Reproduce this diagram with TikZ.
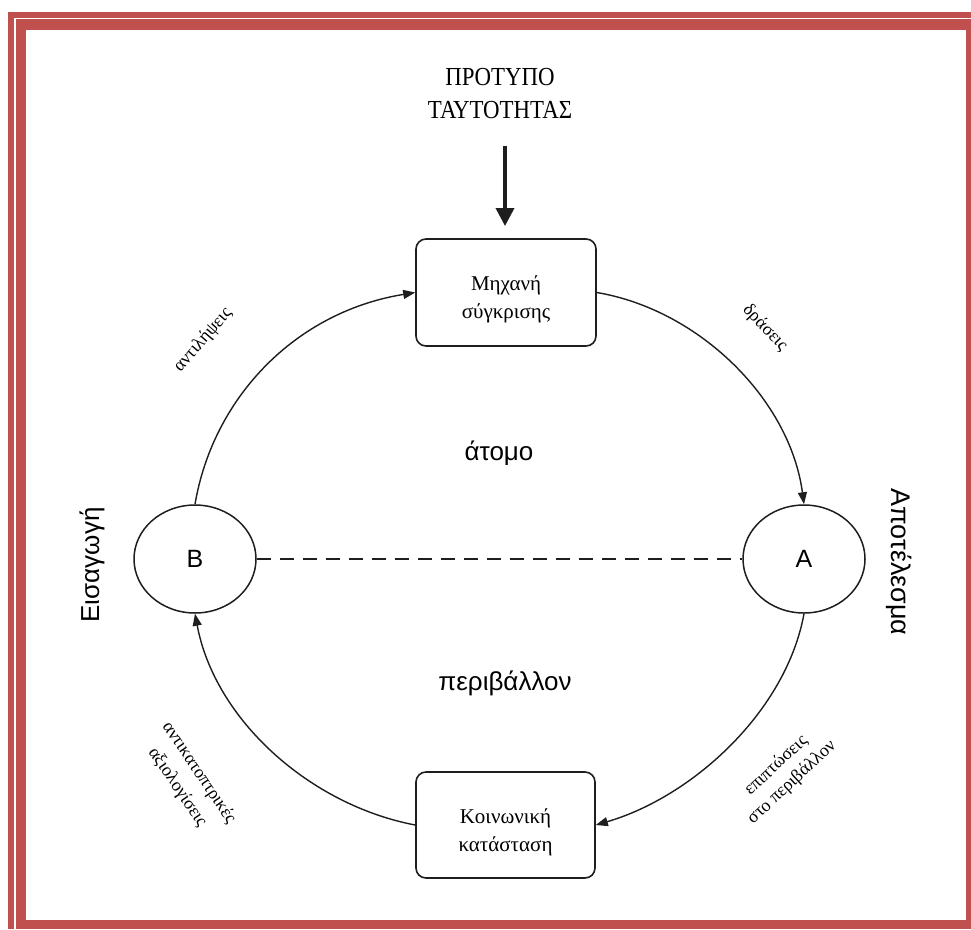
\documentclass[tikz,border=0pt]{standalone}
\usepackage{fontspec}
\setmainfont{Liberation Serif}
\newfontfamily\grsans{Liberation Sans}
\newfontfamily\ttlfont[FakeStretch=0.88]{Liberation Serif}
\usetikzlibrary{shapes.geometric, arrows.meta}
\definecolor{fr}{HTML}{C0504D}
\definecolor{ln}{HTML}{1E1E1E}
\newcommand{\lowr}{\rule{0pt}{29pt}}

\begin{document}
\begin{tikzpicture}[x=1pt, y=-1pt,
    box/.style={draw=ln, line width=1.6pt, rounded corners=10pt, minimum width=180pt, minimum height=107pt, align=center, font=\fontsize{21}{28}\selectfont},
    ring/.style={ellipse, draw=ln, line width=1.5pt, minimum width=122pt, minimum height=108pt, inner sep=0pt, font=\grsans\fontsize{25}{30}\selectfont},
    flow/.style={draw=ln, line width=1.4pt, -{Triangle[length=12pt, width=9pt]}},
    lbl/.style={font=\fontsize{18}{26}\selectfont, align=center},
    side/.style={font=\grsans\fontsize{26}{30}\selectfont}]
    \useasboundingbox (0,0) rectangle (971,929);

    % Page frame (thick-thin, cropped)
    \fill[fr] (8,12) rectangle (971,929);
    \fill[white] (14,18) rectangle (971,929);
    \fill[fr] (16,19) rectangle (971,929);
    \fill[white] (26,30) rectangle (966,920);

    % Identity standard
    \node[font=\ttlfont\fontsize{26}{33}\selectfont, align=center] (idn) at (500,94) {ΠΡΟΤΥΠΟ\\ΤΑΥΤΟΤΗΤΑΣ};
    \coordinate (src) at (505,146);
    \coordinate (tip) at (505,226);
    \draw[ln, line width=3.6pt, -{Triangle[length=18pt, width=18pt]}] (src) -- (tip);

    % Boxes and rings
    \node[box] (cmp) at (506,292.5) {\lowr Μηχανή\\σύγκρισης};
    \node[box, minimum width=179pt, minimum height=106pt] (soc) at (505.5,825) {\lowr Κοινωνική\\κατάσταση};
    \node[ring] (B) at (195,559) {B};
    \node[ring] (A) at (804,559) {A};

    % Side texts
    \node[side] (atom) at (499,453) {άτομο};
    \node[side] (env) at (505,683) {περιβάλλον};
    \node[side, rotate=90] (inp) at (92,565) {Εισαγωγή};
    \node[side, rotate=-90, font=\grsans\fontsize{27}{30}\selectfont] (out) at (899,562) {Αποτέλεσμα};

    % Edge labels
    \node[lbl, rotate=49] (perc) at (203,340) {αντιλήψεις};
    \node[lbl, rotate=-46] (act) at (765,328) {δράσεις};
    \node[lbl, rotate=-56] (refl) at (188,780) {αντικατοπτρικές\\αξιολογίσεις};
    \node[lbl, rotate=43, font=\fontsize{18}{23}\selectfont] (imp) at (784,774) {επιπτώσεις\\στο περιβάλλον};

    % Cycle
    \draw[flow] (B.north) .. controls (213,398) and (295,312) .. (cmp.west);
    \draw[flow] (cmp.east) .. controls (700,310) and (790,400) .. (A.north);
    \draw[flow] (A.south) .. controls (786,712) and (692,797) .. (soc.east);
    \draw[flow] (soc.west) .. controls (310,805) and (215,720) .. (B.south);

    % Boundary
    \draw[ln, line width=1.5pt, dash pattern=on 14pt off 9pt] (B.east) -- (A.west);
\end{tikzpicture}
\end{document}
